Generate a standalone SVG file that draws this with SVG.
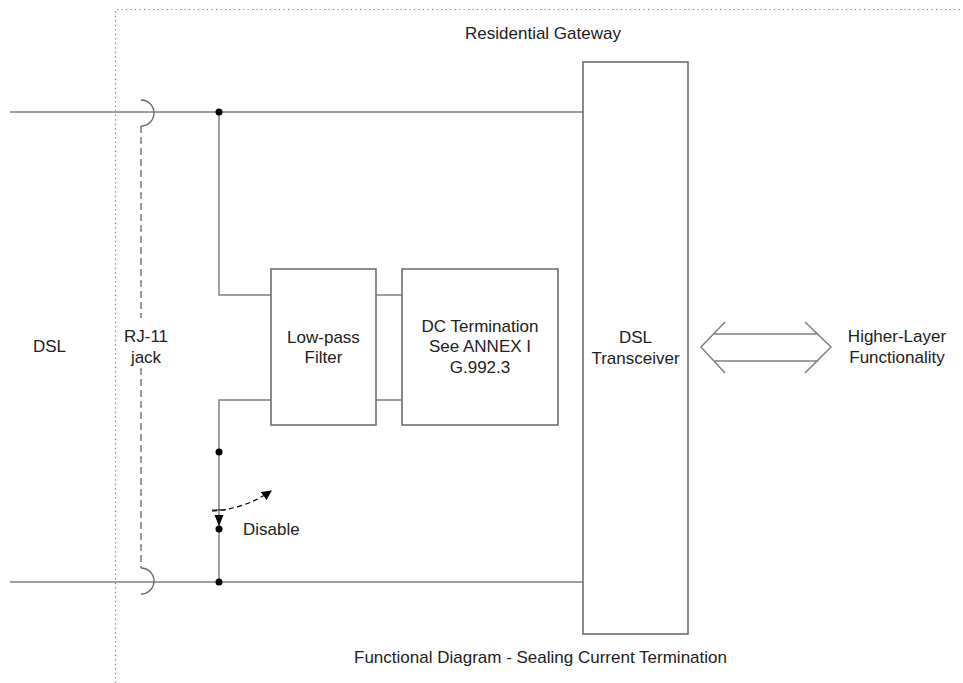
<svg xmlns="http://www.w3.org/2000/svg" width="963" height="683" viewBox="0 0 963 683">
<style>
text{font-family:"Liberation Sans",Arial,sans-serif;font-size:17px;fill:#222;}
.m{text-anchor:middle;}
.w{stroke:#808080;stroke-width:1.5;fill:none;}
.box{stroke:#707070;stroke-width:1.6;fill:#fff;}
.dot{fill:#000;}
</style>
<defs>
<marker id="ah" markerWidth="10" markerHeight="10" refX="9" refY="5" orient="auto" markerUnits="userSpaceOnUse"><path d="M0,0 L10,5 L0,10 z" fill="#000"/></marker>
</defs>
<rect width="963" height="683" fill="#fff"/>
<g id="gateway-border">
<path d="M115.5,683 L115.5,9.5 L963,9.5" fill="none" stroke="#777" stroke-width="1.2" stroke-dasharray="1.2,3.3"/>
<text class="m" x="543" y="39">Residential Gateway</text>
</g>
<g id="connectors">
<path class="w" d="M10,112 L583,112"/>
<path class="w" d="M10,582 L583,582"/>
<path class="w" d="M219,112 L219,295 L271,295"/>
<path class="w" d="M219,582 L219,400 L271,400"/>
<path class="w" d="M376,295 L402,295 M376,400 L402,400"/>
<path d="M141,126 L141,318 M141,368 L141,568" fill="none" stroke="#808080" stroke-width="1.6" stroke-dasharray="7,4"/>
<path d="M141,100 A13,13 0 0 1 141,126" fill="none" stroke="#666" stroke-width="1.3"/>
<path d="M141,568 A13,13 0 0 1 141,594" fill="none" stroke="#666" stroke-width="1.3"/>
<circle class="dot" cx="219" cy="112" r="3.5"/>
<circle class="dot" cx="219" cy="582" r="3.5"/>
</g>
<g id="switch">
<circle class="dot" cx="219" cy="452" r="3.5"/>
<circle class="dot" cx="219" cy="529" r="3.5"/>
<path d="M214.5,515 L223.5,515 L219,526 z" fill="#000"/>
<path d="M212,510 L226,510" stroke="#333" stroke-width="1.2"/>
<path d="M212,511 Q245,509 271,491" fill="none" stroke="#000" stroke-width="1.2" stroke-dasharray="5,3.5" marker-end="url(#ah)"/>
<text x="243" y="535">Disable</text>
</g>
<g id="dsl">
<text class="m" x="49.5" y="352">DSL</text>
</g>
<g id="rj11">
<text class="m" x="146" y="342">RJ-11</text>
<text class="m" x="146" y="363">jack</text>
</g>
<g id="lowpass">
<rect class="box" x="271" y="269" width="105" height="156"/>
<text class="m" x="323.5" y="343">Low-pass</text>
<text class="m" x="323.5" y="363">Filter</text>
</g>
<g id="dctermination">
<rect class="box" x="402" y="269" width="156" height="156"/>
<text class="m" x="480" y="332">DC Termination</text>
<text class="m" x="480" y="352">See ANNEX I</text>
<text class="m" x="480" y="373">G.992.3</text>
</g>
<g id="transceiver">
<rect class="box" x="583" y="62" width="105" height="572"/>
<text class="m" x="635.5" y="343">DSL</text>
<text class="m" x="635.5" y="364">Transceiver</text>
</g>
<g id="interface-arrow">
<path class="w" d="M725,322 L701,347 L725,373 M805,322 L831,347 L805,373 M713.5,334 L818.5,334 M713.5,361 L818.5,361"/>
</g>
<g id="higher-layer">
<text class="m" x="897" y="342">Higher-Layer</text>
<text class="m" x="897" y="363">Functionality</text>
</g>
<text class="m" x="540.5" y="663">Functional Diagram - Sealing Current Termination</text>
</svg>
